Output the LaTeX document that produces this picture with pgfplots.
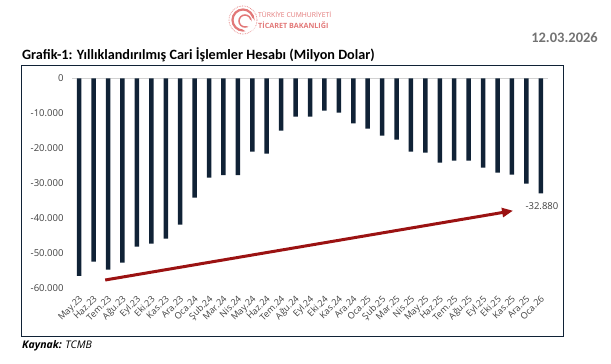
\documentclass[border=0pt]{standalone}
\usepackage{pgfplots}
\pgfplotsset{compat=1.18}
\usepackage{fontspec}
\setmainfont{Carlito}
\newfontfamily\osans{Open Sans}
\usetikzlibrary{arrows.meta}
\definecolor{barcol}{RGB}{16,34,54}
\definecolor{arrowred}{RGB}{155,18,18}
\definecolor{labgray}{RGB}{64,64,64}
\definecolor{logored}{RGB}{226,120,120}
\begin{document}
\begin{tikzpicture}[x=1pt,y=1pt]
\path[use as bounding box] (0,0) rectangle (611,364);
% logo
\draw[logored, line width=0.7pt, densely dotted] (243,344) circle (14);
\draw[logored, line width=2.2pt] (243,344) circle (10.5);
\fill[white] (248,340) circle (7.5);
\draw[logored, line width=1.5pt] (245,343) circle (6);
\fill[white] (248.5,341) circle (3.8);
\node[anchor=west, inner sep=0, text=logored, font=\osans\fontsize{6.8}{7}\selectfont] at (258,350) {TÜRKİYE CUMHURİYETİ};
\node[anchor=west, inner sep=0, text=logored, font=\osans\bfseries\fontsize{7.2}{8}\selectfont] at (258,339) {TİCARET BAKANLIĞI};
% date
\node[anchor=east, inner sep=0, text=gray!90!black, font=\bfseries\fontsize{14.5}{16}\selectfont] at (598,326) {12.03.2026};
% title
\node[anchor=west, inner sep=0, font=\bfseries\fontsize{14.2}{16}\selectfont] at (22,309) {Grafik-1: Yıllıklandırılmış Cari İşlemler Hesabı (Milyon Dolar)};
% frame
\draw[barcol, line width=0.8pt] (21,28) rectangle (563,299);
% source
\node[anchor=west, inner sep=0, font=\osans\itshape\fontsize{10.5}{12}\selectfont] at (22,18) {\textbf{Kaynak:} TCMB};
\begin{axis}[
  at={(72pt,75.7pt)}, anchor=south west,
  scale only axis, width=476pt, height=210pt,
  xmin=-0.5, xmax=32.5, ymin=-60000, ymax=0,
  axis line style={draw=none}, major tick style={draw=none},
  clip=false, scaled y ticks=false,
  ytick={-60000,-50000,-40000,-30000,-20000,-10000,0},
  yticklabels={-60.000,-50.000,-40.000,-30.000,-20.000,-10.000,0},
  yticklabel style={font=\osans\fontsize{9.5}{10}\selectfont, text=labgray, xshift=-5pt},
  xtick={0,...,32},
  xticklabels={May.23,Haz.23,Tem.23,Ağu.23,Eyl.23,Eki.23,Kas.23,Ara.23,Oca.24,Şub.24,Mar.24,Nis.24,May.24,Haz.24,Tem.24,Ağu.24,Eyl.24,Eki.24,Kas.24,Ara.24,Oca.25,Şub.25,Mar.25,Nis.25,May.25,Haz.25,Tem.25,Ağu.25,Eyl.25,Eki.25,Kas.25,Ara.25,Oca.26},
  xticklabel style={rotate=45, anchor=north east, font=\osans\fontsize{9}{10}\selectfont, text=labgray, inner sep=0pt, xshift=-5pt, yshift=-4pt},
]
\addplot[gray!35, line width=0.8pt, no marks] coordinates {(-0.5,0) (32.5,0)};
\addplot[ybar, bar width=4.5pt, fill=barcol, draw=none] coordinates {
(0,-56480) (1,-52400) (2,-54680) (3,-52680) (4,-48100) (5,-47250) (6,-45830) (7,-41820)
(8,-34100) (9,-28400) (10,-27630) (11,-27630) (12,-20970) (13,-21540) (14,-14970) (15,-10970)
(16,-10970) (17,-9250) (18,-9830) (19,-12860) (20,-14390) (21,-16390) (22,-17540) (23,-20970)
(24,-21250) (25,-24110) (26,-23540) (27,-23540) (28,-25540) (29,-26970) (30,-27540) (31,-30110)
(32,-32880)};
\draw[arrowred, line width=3pt, -{Triangle[length=11pt,width=9pt]}] (axis cs:1.8,-57630) -- (axis cs:30.08,-37830);
\node[font=\osans\fontsize{9.5}{10}\selectfont, text=labgray] at (axis cs:32.08,-36400) {-32.880};
\end{axis}
\end{tikzpicture}
\end{document}
